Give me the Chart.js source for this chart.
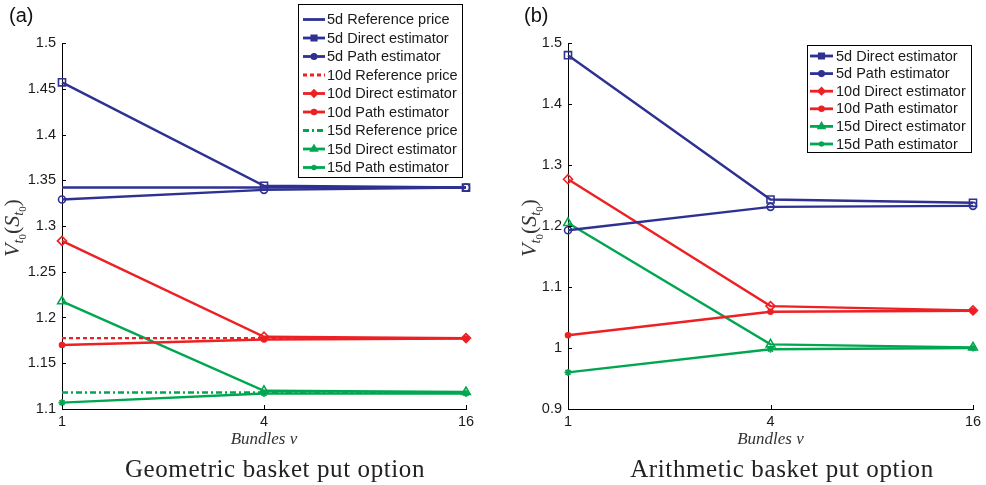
<!DOCTYPE html>
<html><head><meta charset="utf-8">
<script src="https://cdn.jsdelivr.net/npm/chart.js@4/dist/chart.umd.min.js"></script>
<style>
body{margin:0;background:#fff;width:986px;height:485px;overflow:hidden;position:relative;font-family:'Liberation Sans',Arial,sans-serif}
.pane{position:absolute;top:0;width:493px;height:485px}
.pane canvas{position:absolute;left:0;top:0}
.tag{position:absolute;top:3px;font-size:20px;line-height:24px;color:#111}
.sub{position:absolute;top:456px;font-family:'Liberation Serif',serif;font-size:25px;line-height:25px;letter-spacing:0.6px;white-space:nowrap;transform:translateX(-50%);color:#222}
.ytitle{position:absolute;font-family:'Liberation Serif',serif;font-size:22px;line-height:24px;white-space:nowrap;transform:translate(-50%,-50%) rotate(-90deg);color:#333}
.ytitle i{font-style:italic}
.ytitle sub{font-size:0.65em;vertical-align:-0.3em}
.ytitle sub sub{font-size:0.75em;font-style:normal;vertical-align:-0.25em}
</style>
</head><body>
<div class="pane" style="left:0"><canvas id="c1" width="493" height="485"></canvas></div>
<div class="pane" style="left:493px"><canvas id="c2" width="493" height="485"></canvas></div>
<div class="tag" style="left:9px">(a)</div>
<div class="tag" style="left:524px">(b)</div>
<div class="ytitle" style="left:17px;top:228px"><i>V</i><sub><i>t</i><sub>0</sub></sub>(<i>S</i><sub><i>t</i><sub>0</sub></sub>)</div>
<div class="ytitle" style="left:534px;top:228px"><i>V</i><sub><i>t</i><sub>0</sub></sub>(<i>S</i><sub><i>t</i><sub>0</sub></sub>)</div>
<div class="sub" style="left:275px">Geometric basket put option</div>
<div class="sub" style="left:782px">Arithmetic basket put option</div>
<script>
// ---- data ----
const bundles = ['1', '4', '16'];
// (a) Geometric basket put option
const geo5Ref     = [1.342, 1.342, 1.342];
const geo5Direct  = [1.457, 1.344, 1.342];
const geo5Path    = [1.329, 1.3395, 1.342];
const geo10Ref    = [1.1775, 1.1775, 1.1775];
const geo10Direct = [1.2837, 1.179, 1.1775];
const geo10Path   = [1.170, 1.176, 1.177];
const geo15Ref    = [1.118, 1.118, 1.118];
const geo15Direct = [1.2177, 1.1199, 1.1185];
const geo15Path   = [1.107, 1.117, 1.117];
// (b) Arithmetic basket put option
const ari5Direct  = [1.480, 1.2435, 1.238];
const ari5Path    = [1.193, 1.2314, 1.233];
const ari10Direct = [1.2767, 1.0687, 1.0616];
const ari10Path   = [1.021, 1.0594, 1.061];
const ari15Direct = [1.205, 1.006, 1.001];
const ari15Path   = [0.960, 0.998, 1.000];
// axis ranges
const geoAxis = [1.1, 1.5, 0.05];
const ariAxis = [0.9, 1.5, 0.1];
const xTitle = 'Bundles \u03bd';

// ---- styles ----
const BLUE = '#2E3192', RED = '#ED2024', GREEN = '#00A650';
Chart.defaults.font.family = "'Liberation Sans', Arial, Helvetica, sans-serif";
Chart.defaults.color = '#222';

const STY = {
  ref:    {pointStyle: 'circle', radius: 0, fill: false},
  d5:     {pointStyle: 'rect', radius: 5, fill: false},
  p5:     {pointStyle: 'circle', radius: 3.5, fill: false},
  d10:    {pointStyle: 'rectRot', radius: 4.5, fill: false},
  p10:    {pointStyle: 'circle', radius: 2.5, fill: true},
  d15:    {pointStyle: 'triangle', radius: 5, fill: false},
  p15:    {pointStyle: 'star', radius: 3.5, fill: true}
};
function ds(label, data, color, sty, dash) {
  return {
    label, data,
    borderColor: color, backgroundColor: color,
    borderWidth: 2.4, borderDash: dash || [],
    tension: 0,
    pointStyle: sty.pointStyle, pointRadius: sty.radius, pointHoverRadius: sty.radius,
    pointBorderWidth: 1.6, pointBorderColor: color,
    pointBackgroundColor: sty.fill ? color : 'rgba(255,255,255,0)'
  };
}

function boxLegend(cfg) {
  return {
    id: 'boxLegend',
    afterDraw(chart) {
      const ctx = chart.ctx;
      ctx.save();
      ctx.fillStyle = '#fff';
      ctx.fillRect(cfg.x, cfg.y, cfg.w, cfg.h);
      ctx.strokeStyle = '#000'; ctx.lineWidth = 1;
      ctx.strokeRect(cfg.x + 0.5, cfg.y + 0.5, cfg.w, cfg.h);
      ctx.font = cfg.font; ctx.textBaseline = 'middle'; ctx.textAlign = 'left';
      chart.data.datasets.forEach((d, i) => {
        const y = cfg.rowY0 + i * cfg.rowH;
        ctx.strokeStyle = d.borderColor; ctx.lineWidth = 2.8;
        ctx.setLineDash(d.borderDash || []);
        ctx.beginPath(); ctx.moveTo(cfg.lineX0, y); ctx.lineTo(cfg.lineX1, y); ctx.stroke();
        ctx.setLineDash([]);
        if (d.pointRadius > 0) {
          ctx.fillStyle = d.borderColor; ctx.lineWidth = 1.5;
          const r = Math.max(2.5, d.pointRadius * 0.8);
          if (Chart.helpers && Chart.helpers.drawPoint) {
            Chart.helpers.drawPoint(ctx, {pointStyle: d.pointStyle, radius: r, rotation: 0, borderWidth: 1.5}, (cfg.lineX0 + cfg.lineX1) / 2, y);
          } else {
            ctx.beginPath(); ctx.arc((cfg.lineX0 + cfg.lineX1) / 2, y, r, 0, Math.PI * 2); ctx.fill();
          }
        }
        ctx.fillStyle = '#1a1a1a';
        ctx.fillText(d.label, cfg.textX, y + 0.5);
      });
      ctx.restore();
    }
  };
}

const inwardTicks = {
  id: 'inwardTicks',
  afterDraw(chart) {
    const ctx = chart.ctx, a = chart.chartArea;
    const xs = chart.scales.x, ys = chart.scales.y;
    ctx.save();
    ctx.strokeStyle = '#000'; ctx.lineWidth = 1;
    ctx.beginPath();
    ys.ticks.forEach(t => {
      const y = Math.round(ys.getPixelForValue(t.value)) + 0.5;
      ctx.moveTo(a.left, y); ctx.lineTo(a.left + 4, y);
    });
    xs.ticks.forEach((t, i) => {
      const x = Math.round(xs.getPixelForValue(i)) + 0.5;
      ctx.moveTo(x, a.bottom); ctx.lineTo(x, a.bottom - 4);
    });
    ctx.stroke();
    ctx.restore();
  }
};

function makeChart(id, datasets, axis, lay, legendCfg) {
  return new Chart(document.getElementById(id), {
    type: 'line',
    data: {labels: bundles, datasets},
    options: {
      responsive: false, animation: false, devicePixelRatio: 1,
      layout: {padding: {top: 43, right: lay.right, left: 0, bottom: 35}},
      plugins: {legend: {display: false}, tooltip: {enabled: false}},
      scales: {
        x: {
          type: 'category', offset: false,
          grid: {display: false, drawTicks: false},
          border: {display: true, color: '#000', width: 1},
          ticks: {font: {size: 14.5}, padding: 4, color: '#1a1a1a', maxRotation: 0},
          title: {display: true, text: xTitle, font: {family: "'Liberation Serif', serif", style: 'italic', size: 17}, color: '#333', padding: {top: 1, bottom: 0}},
          afterFit(s) { s.height = 41; }
        },
        y: {
          min: axis[0], max: axis[1],
          grid: {display: false, drawTicks: false},
          border: {display: true, color: '#000', width: 1},
          ticks: {stepSize: axis[2], font: {size: 14.5}, padding: 6, color: '#1a1a1a',
                  callback: v => String(+(+v).toFixed(3))},
          afterFit(s) { s.width = lay.yWidth; }
        }
      }
    },
    plugins: [inwardTicks, boxLegend(legendCfg)]
  });
}

makeChart('c1', [
  ds('5d Reference price', geo5Ref, BLUE, STY.ref),
  ds('5d Direct estimator', geo5Direct, BLUE, STY.d5),
  ds('5d Path estimator', geo5Path, BLUE, STY.p5),
  ds('10d Reference price', geo10Ref, RED, STY.ref, [4, 3]),
  ds('10d Direct estimator', geo10Direct, RED, STY.d10),
  ds('10d Path estimator', geo10Path, RED, STY.p10),
  ds('15d Reference price', geo15Ref, GREEN, STY.ref, [6, 3, 2, 3]),
  ds('15d Direct estimator', geo15Direct, GREEN, STY.d15),
  ds('15d Path estimator', geo15Path, GREEN, STY.p15)
], geoAxis, {right: 27, yWidth: 62},
  {x: 298, y: 4, w: 164, h: 173, rowY0: 19.5, rowH: 18.5, lineX0: 303, lineX1: 325, textX: 327, font: "14.5px 'Liberation Sans', Arial, sans-serif"});

makeChart('c2', [
  ds('5d Direct estimator', ari5Direct, BLUE, STY.d5),
  ds('5d Path estimator', ari5Path, BLUE, STY.p5),
  ds('10d Direct estimator', ari10Direct, RED, STY.d10),
  ds('10d Path estimator', ari10Path, RED, STY.p10),
  ds('15d Direct estimator', ari15Direct, GREEN, STY.d15),
  ds('15d Path estimator', ari15Path, GREEN, STY.p15)
], ariAxis, {right: 13, yWidth: 75},
  {x: 807 - 493, y: 45, w: 164, h: 107, rowY0: 56, rowH: 17.6, lineX0: 810 - 493, lineX1: 833 - 493, textX: 836 - 493, font: "14.5px 'Liberation Sans', Arial, sans-serif"});
</script>
</body></html>
